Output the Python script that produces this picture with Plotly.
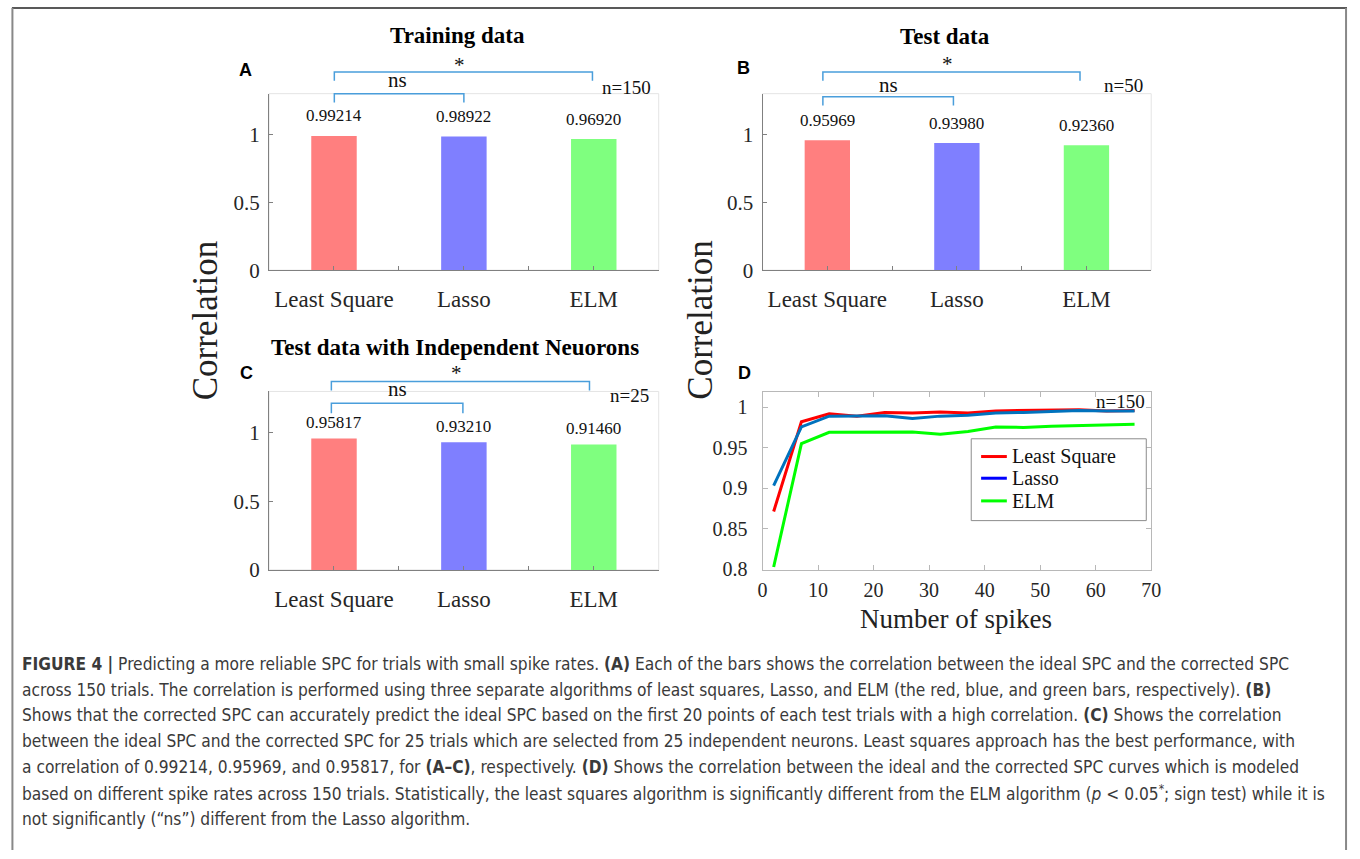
import plotly.graph_objects as go

# ---------------- data ----------------
categories = ["Least Square", "Lasso", "ELM"]
train_corr = [0.99214, 0.98922, 0.96920]
test_corr = [0.95969, 0.93980, 0.92360]
indep_corr = [0.95817, 0.93210, 0.91460]
n_labels = ["n=150", "n=50", "n=25", "n=150"]
panel_titles = ["Training data", "Test data", "Test data with Independent Neuorons"]
panel_letters = ["A", "B", "C", "D"]

spikes = [2, 7, 12, 17, 22, 27, 32, 37, 42, 47, 52, 57, 62, 67]
ls_curve = [0.871, 0.982, 0.992, 0.989, 0.9935, 0.993, 0.994, 0.993, 0.9955, 0.996, 0.9963, 0.997, 0.9955, 0.996]
lasso_curve = [0.903, 0.9756, 0.989, 0.989, 0.9894, 0.986, 0.989, 0.990, 0.993, 0.9935, 0.995, 0.996, 0.9955, 0.9955]
elm_curve = [0.8024, 0.955, 0.969, 0.969, 0.969, 0.9695, 0.9667, 0.970, 0.9756, 0.975, 0.9764, 0.977, 0.9785, 0.979]
curve_names = ["Least Square", "Lasso", "ELM"]

caption_lines = [
    "<b>FIGURE 4 |</b> Predicting a more reliable SPC for trials with small spike rates. <b>(A)</b> Each of the bars shows the correlation between the ideal SPC and the corrected SPC",
    "across 150 trials. The correlation is performed using three separate algorithms of least squares, Lasso, and ELM (the red, blue, and green bars, respectively). <b>(B)</b>",
    "Shows that the corrected SPC can accurately predict the ideal SPC based on the first 20 points of each test trials with a high correlation. <b>(C)</b> Shows the correlation",
    "between the ideal SPC and the corrected SPC for 25 trials which are selected from 25 independent neurons. Least squares approach has the best performance, with",
    "a correlation of 0.99214, 0.95969, and 0.95817, for <b>(A–C)</b>, respectively. <b>(D)</b> Shows the correlation between the ideal and the corrected SPC curves which is modeled",
    "based on different spike rates across 150 trials. Statistically, the least squares algorithm is significantly different from the ELM algorithm (<i>p</i> &lt; 0.05<sup>*</sup>; sign test) while it is",
    "not significantly (“ns”) different from the Lasso algorithm.",
]

# ---------------- styling ----------------
W, H = 1360, 859
SERIF = "Liberation Serif, Times New Roman, serif"
SANS = "Liberation Sans, Arial, sans-serif"
NARROW = "DejaVu Sans Condensed, Liberation Sans Narrow, Roboto, sans-serif"
bar_colors = ["#ff7f7f", "#7f7fff", "#7fff7f"]
line_colors = ["#ff0000", "#0072bd", "#00ff00"]
legend_colors = ["#ff0000", "#0000ff", "#00ff00"]
BRACKET = "#4a9edb"
TXT = "#262626"


def PX(x):
    return x / W


def PY(y):
    return 1 - y / H


fig = go.Figure()
shapes = []
annotations = []

bar_sets = [train_corr, test_corr, indep_corr]
bar_axes = [("x", "y"), ("x2", "y2"), ("x3", "y3")]
label_shift = [20, 20, 16]
for k, vals in enumerate(bar_sets):
    xa, ya = bar_axes[k]
    xs = [i + 1 for i in range(len(categories))]
    fig.add_trace(go.Bar(
        x=xs, y=vals, width=0.35, marker=dict(color=bar_colors, line=dict(width=0)),
        xaxis=xa, yaxis=ya, showlegend=False, hoverinfo="skip",
    ))
    for i, v in enumerate(vals):
        annotations.append(dict(
            x=xs[i], y=v, xref=xa, yref=ya, text=f"{v:.5f}", showarrow=False,
            xanchor="center", yanchor="middle", yshift=label_shift[k],
            font=dict(family=SERIF, size=17, color="#111111"),
        ))

curves = [ls_curve, lasso_curve, elm_curve]
for k, c in enumerate(curves):
    fig.add_trace(go.Scatter(
        x=spikes, y=c, mode="lines", line=dict(color=line_colors[k], width=3),
        xaxis="x4", yaxis="y4", name=curve_names[k], showlegend=False, hoverinfo="skip",
    ))

# ---------------- axes ----------------
bar_x_dom = [(267, 661), (766, 1159), (267, 661)]
bar_y_dom = [(95, 274), (95, 274), (397, 578)]

layout_axes = {}
for k in range(3):
    sx = "" if k == 0 else str(k + 1)
    x0, x1 = bar_x_dom[k]
    y0, y1 = bar_y_dom[k]
    layout_axes["xaxis" + sx] = dict(
        domain=[PX(x0), PX(x1)], anchor="y" + sx, range=[0.5, 3.5],
        tickvals=[1, 2, 3], ticktext=categories, ticks="inside", ticklen=4,
        tickcolor="#808080", showline=True, linecolor="#808080", linewidth=1,
        minor=dict(tickvals=[0.5, 1.5, 2.5, 3.5], ticks="inside", ticklen=4, tickcolor="#808080", showgrid=False),
        showgrid=False, zeroline=False, ticklabelstandoff=8,
        tickfont=dict(family=SERIF, size=23, color=TXT), fixedrange=True,
    )
    layout_axes["yaxis" + sx] = dict(
        domain=[PY(y1), PY(y0)], anchor="x" + sx, range=[0, 1.305 if k < 2 else 1.302],
        tickvals=[0, 0.5, 1], ticktext=["0", "0.5", "1"], ticks="inside", ticklen=4,
        tickcolor="#808080", showline=True, linecolor="#808080", linewidth=1,
        showgrid=False, zeroline=False, ticklabelstandoff=4,
        tickfont=dict(family=SERIF, size=21, color=TXT), fixedrange=True,
    )

layout_axes["xaxis4"] = dict(
    domain=[PX(766), PX(1159)], anchor="y4", range=[0, 70],
    tickvals=[0, 10, 20, 30, 40, 50, 60, 70], ticks="inside", ticklen=5,
    tickcolor="#b8b8b8", showline=True, linecolor="#b8b8b8", linewidth=1, mirror="ticks",
    showgrid=False, zeroline=False, ticklabelstandoff=2,
    tickfont=dict(family=SERIF, size=20, color=TXT), fixedrange=True,
)
layout_axes["yaxis4"] = dict(
    domain=[PY(578), PY(398)], anchor="x4", range=[0.7988, 1.0183],
    tickvals=[0.8, 0.85, 0.9, 0.95, 1], ticktext=["0.8", "0.85", "0.9", "0.95", "1"],
    ticks="inside", ticklen=5, tickcolor="#b8b8b8", showline=True, linecolor="#b8b8b8",
    linewidth=1, mirror="ticks", showgrid=False, zeroline=False, ticklabelstandoff=10,
    tickfont=dict(family=SERIF, size=20, color=TXT), fixedrange=True,
)

# faint frames (top/right) for bar panels
for k in range(3):
    sx = "" if k == 0 else str(k + 1)
    shapes.append(dict(type="rect", xref="x" + sx + " domain", yref="y" + sx + " domain",
                       x0=0, x1=1, y0=0, y1=1, line=dict(color="#e4e4e4", width=1), layer="below"))


def ann(x, y, text, size, family=SERIF, color="#111111", xanchor="center", yanchor="middle", **kw):
    annotations.append(dict(x=PX(x), y=PY(y), xref="paper", yref="paper", text=text, showarrow=False,
                            xanchor=xanchor, yanchor=yanchor, font=dict(family=family, size=size, color=color), **kw))


def bracket(x0, x1, ytop, ybot):
    shapes.append(dict(type="path", xref="paper", yref="paper",
                       path=f"M {PX(x0)},{PY(ybot)} L {PX(x0)},{PY(ytop)} L {PX(x1)},{PY(ytop)} L {PX(x1)},{PY(ybot)}",
                       line=dict(color=BRACKET, width=1.5)))


# titles
ann(458, 36, "<b>" + panel_titles[0] + "</b>", 23, color="#000000")
ann(950, 37, "<b>" + panel_titles[1] + "</b>", 23, color="#000000")
ann(455, 352, "<b>" + panel_titles[2] + "</b>", 23, color="#000000")

# panel letters
for (x, y), t in zip([(243, 71), (747, 69), (244, 378), (748, 378)], panel_letters):
    ann(x, y, "<b>" + t + "</b>", 18, family=SANS, color="#000000")

# significance brackets
sig = [
    ((460, 66), (333, 594, 73, 82), (397, 81), (333, 464, 95, 104)),
    ((953, 65), (827, 1087, 73, 82), (893, 86), (827, 959, 98, 107)),
    ((457, 378), (330, 591, 387, 396), (397, 395), (330, 463, 409, 419)),
]
for (sxy, sb, nxy, nb) in sig:
    ann(sxy[0], sxy[1], "*", 21)
    bracket(*sb)
    ann(nxy[0], nxy[1], "ns", 21)
    bracket(*nb)

# n labels
for (x, y), t in zip([(655, 89), (1153, 87), (653, 401), (1155, 407)], n_labels):
    ann(x, y, t, 19, xanchor="right")

# y-axis titles
ann(203, 325, "Correlation", 35, color="#222222", textangle=-90)
ann(703, 325, "Correlation", 35, color="#222222", textangle=-90)

# x title of D
ann(962, 628, "Number of spikes", 27, color="#222222")

# manual legend for D
shapes.append(dict(type="rect", xref="paper", yref="paper", x0=PX(977), x1=PX(1154), y0=PY(528), y1=PY(445),
                   line=dict(color="#8c8c8c", width=1), fillcolor="white"))
for k, (name, yy) in enumerate(zip(curve_names, [463, 485, 508])):
    shapes.append(dict(type="line", xref="paper", yref="paper", x0=PX(987), x1=PX(1013), y0=PY(yy), y1=PY(yy),
                       line=dict(color=legend_colors[k], width=3)))
    ann(1016, yy, name, 20, xanchor="left")

# caption
for i, line in enumerate(caption_lines):
    ann(15, 673 + i * 26.3, line, 17.2, family=NARROW, color="#3a3a3a", xanchor="left")

# figure border
shapes.append(dict(type="line", xref="paper", yref="paper", x0=PX(7), x1=PX(1357), y0=PY(8), y1=PY(8),
                   line=dict(color="#222222", width=1.5)))
shapes.append(dict(type="line", xref="paper", yref="paper", x0=PX(7.5), x1=PX(7.5), y0=PY(8), y1=PY(862),
                   line=dict(color="#888888", width=2)))
shapes.append(dict(type="line", xref="paper", yref="paper", x0=PX(1356), x1=PX(1356), y0=PY(8), y1=PY(862),
                   line=dict(color="#888888", width=2)))

fig.update_layout(
    width=W, height=H, margin=dict(l=0, r=0, t=0, b=0),
    paper_bgcolor="white", plot_bgcolor="white", showlegend=False,
    shapes=shapes, annotations=annotations, **layout_axes,
)

fig.write_html("out.html", config={"displayModeBar": False},
               post_script="document.body.style.margin='0px';document.body.style.padding='0px';")
